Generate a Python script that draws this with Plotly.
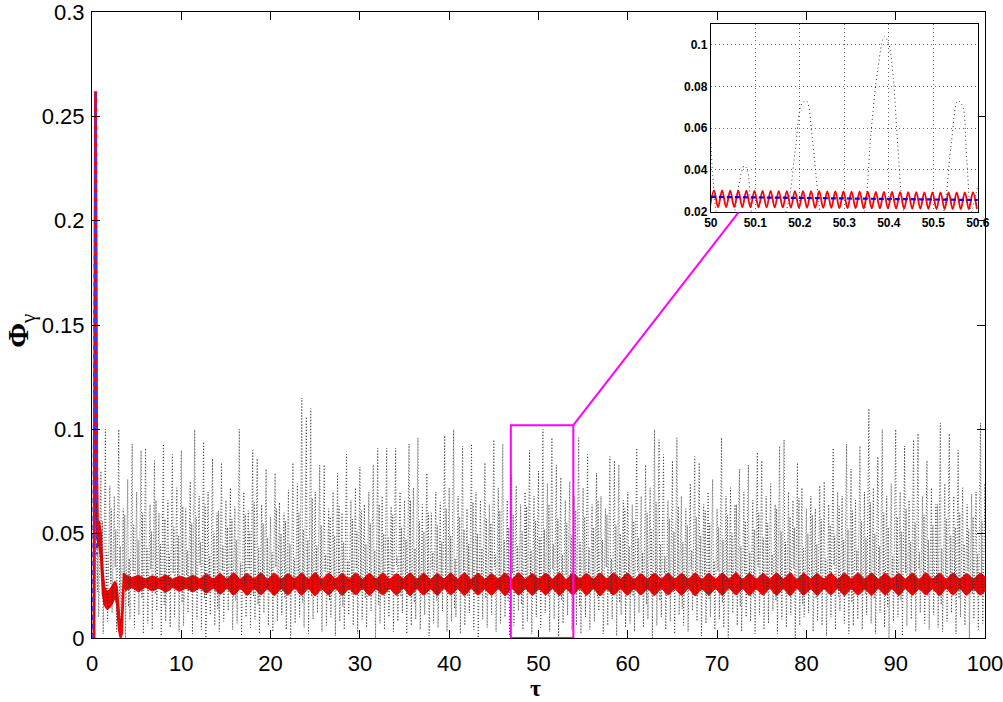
import numpy as np
import plotly.graph_objects as go

# ---------------- data ----------------
# black dotted signal: per 0.5-tau cycle a trough, a tall peak, a dip and a smaller bump
black_peak_tau0 = 0.5
black_step = 0.5
black_peaks = [
    0.065, 0.080, 0.100, 0.073, 0.068, 0.100, 0.062, 0.076, 0.093, 0.070,
    0.090, 0.091, 0.064, 0.085, 0.060, 0.093, 0.066, 0.088, 0.072, 0.090,
    0.062, 0.075, 0.100, 0.068, 0.094, 0.070, 0.086, 0.060, 0.084, 0.066,
    0.072, 0.063, 0.100, 0.070, 0.061, 0.090, 0.086, 0.064, 0.081, 0.058,
    0.079, 0.065, 0.060, 0.071, 0.084, 0.074, 0.115, 0.106, 0.110, 0.070,
    0.083, 0.083, 0.062, 0.070, 0.079, 0.060, 0.088, 0.066, 0.072, 0.082,
    0.064, 0.070, 0.083, 0.091, 0.068, 0.091, 0.063, 0.091, 0.070, 0.066,
    0.093, 0.072, 0.096, 0.064, 0.079, 0.060, 0.070, 0.065, 0.097, 0.072,
    0.100, 0.068, 0.092, 0.062, 0.093, 0.070, 0.066, 0.084, 0.064, 0.095,
    0.072, 0.093, 0.066, 0.078, 0.073, 0.064, 0.070, 0.090, 0.068, 0.080,
    0.100, 0.074, 0.096, 0.083, 0.077, 0.066, 0.075, 0.068, 0.096, 0.072,
    0.088, 0.064, 0.079, 0.068, 0.062, 0.087, 0.085, 0.083, 0.066, 0.070,
    0.064, 0.091, 0.068, 0.083, 0.072, 0.100, 0.095, 0.088, 0.066, 0.085,
    0.096, 0.068, 0.062, 0.074, 0.087, 0.084, 0.064, 0.070, 0.076, 0.062,
    0.096, 0.068, 0.072, 0.064, 0.081, 0.070, 0.083, 0.066, 0.089, 0.085,
    0.068, 0.074, 0.064, 0.092, 0.095, 0.070, 0.066, 0.084, 0.072, 0.062,
    0.068, 0.062, 0.073, 0.075, 0.064, 0.091, 0.070, 0.068, 0.093, 0.081,
    0.066, 0.092, 0.070, 0.110, 0.072, 0.087, 0.100, 0.068, 0.074, 0.100,
    0.070, 0.092, 0.066, 0.095, 0.098, 0.068, 0.085, 0.072, 0.064, 0.103,
    0.074, 0.098, 0.068, 0.090, 0.072, 0.064, 0.069, 0.070, 0.103, 0.074,
]
black_troughs = [
    0.004, 0.010, 0.002, 0.008, 0.012, 0.003, 0.006, 0.000, 0.009, 0.005,
    0.011, 0.002, 0.007, 0.004, 0.013, 0.001, 0.008, 0.005, 0.010, 0.003,
    0.006, 0.012, 0.002, 0.009, 0.004, 0.000, 0.011, 0.006, 0.003, 0.008,
    0.013, 0.004, 0.007, 0.001, 0.010, 0.005, 0.009, 0.002, 0.012, 0.006,
    0.003, 0.008, 0.011, 0.004, 0.000, 0.007, 0.010, 0.005, 0.002, 0.009,
    0.012, 0.003, 0.006, 0.010, 0.001, 0.008, 0.004, 0.011, 0.006, 0.002,
    0.009, 0.005, 0.013, 0.000, 0.007, 0.004, 0.010, 0.003, 0.008, 0.012,
    0.002, 0.006, 0.009, 0.004, 0.011, 0.001, 0.007, 0.005, 0.013, 0.003,
    0.008, 0.010, 0.002, 0.006, 0.012, 0.004, 0.000, 0.009, 0.005, 0.011,
    0.003, 0.007, 0.010, 0.001, 0.006, 0.013, 0.004, 0.008, 0.002, 0.010,
    0.005, 0.012, 0.003, 0.009, 0.000, 0.007, 0.011, 0.004, 0.006, 0.002,
    0.010, 0.004, 0.008, 0.013, 0.002, 0.006, 0.009, 0.001, 0.011, 0.005,
    0.007, 0.003, 0.012, 0.005, 0.009, 0.000, 0.006, 0.010, 0.004, 0.008,
    0.002, 0.011, 0.006, 0.003, 0.013, 0.008, 0.001, 0.007, 0.010, 0.004,
    0.009, 0.005, 0.000, 0.012, 0.006, 0.003, 0.010, 0.008, 0.002, 0.011,
    0.004, 0.007, 0.013, 0.002, 0.009, 0.005, 0.011, 0.000, 0.006, 0.010,
    0.012, 0.003, 0.008, 0.006, 0.001, 0.010, 0.004, 0.013, 0.007, 0.002,
    0.006, 0.009, 0.004, 0.011, 0.007, 0.002, 0.012, 0.005, 0.000, 0.008,
    0.010, 0.001, 0.006, 0.009, 0.003, 0.012, 0.007, 0.004, 0.011, 0.005,
    0.003, 0.008, 0.012, 0.002, 0.010, 0.006, 0.000, 0.009, 0.004, 0.007,
]
black_dips = [
    0.022, 0.030, 0.018, 0.026, 0.034, 0.020, 0.028, 0.015, 0.032, 0.024,
    0.019, 0.027, 0.033, 0.021, 0.029, 0.016, 0.025, 0.031, 0.023, 0.017,
    0.030, 0.022, 0.026, 0.035, 0.019, 0.028, 0.024, 0.014, 0.032, 0.027,
    0.021, 0.018, 0.029, 0.025, 0.033, 0.020, 0.016, 0.030, 0.023, 0.027,
    0.034, 0.022, 0.019, 0.028, 0.024, 0.031, 0.017, 0.026, 0.020, 0.029,
    0.025, 0.032, 0.018, 0.023, 0.030, 0.015, 0.027, 0.021, 0.033, 0.024,
    0.019, 0.028, 0.026, 0.016, 0.031, 0.022, 0.029, 0.035, 0.020, 0.025,
    0.030, 0.017, 0.024, 0.027, 0.021, 0.033, 0.018, 0.028, 0.023, 0.026,
    0.014, 0.029, 0.032, 0.020, 0.025, 0.022, 0.030, 0.019, 0.027, 0.034,
    0.023, 0.026, 0.018, 0.031, 0.028, 0.016, 0.024, 0.029, 0.021, 0.025,
    0.027, 0.020, 0.033, 0.024, 0.018, 0.030, 0.022, 0.026, 0.015, 0.029,
    0.031, 0.025, 0.019, 0.028, 0.034, 0.021, 0.027, 0.017, 0.023, 0.030,
    0.020, 0.032, 0.026, 0.016, 0.029, 0.024, 0.018, 0.031, 0.027, 0.022,
    0.028, 0.014, 0.025, 0.033, 0.021, 0.026, 0.030, 0.019, 0.024, 0.032,
    0.017, 0.027, 0.023, 0.029, 0.015, 0.031, 0.025, 0.020, 0.034, 0.026,
    0.022, 0.030, 0.018, 0.024, 0.028, 0.021, 0.033, 0.027, 0.016, 0.029,
    0.025, 0.019, 0.031, 0.023, 0.026, 0.035, 0.020, 0.028, 0.024, 0.017,
    0.032, 0.026, 0.021, 0.027, 0.019, 0.030, 0.024, 0.015, 0.029, 0.023,
    0.018, 0.031, 0.027, 0.022, 0.033, 0.025, 0.020, 0.028, 0.026, 0.016,
    0.030, 0.023, 0.029, 0.019, 0.025, 0.032, 0.021, 0.027, 0.024, 0.028,
]
black_bumps = [
    0.048, 0.056, 0.041, 0.062, 0.052, 0.044, 0.059, 0.038, 0.054, 0.047,
    0.060, 0.043, 0.051, 0.066, 0.045, 0.057, 0.040, 0.053, 0.049, 0.063,
    0.042, 0.055, 0.058, 0.046, 0.064, 0.039, 0.050, 0.061, 0.044, 0.053,
    0.057, 0.047, 0.036, 0.059, 0.051, 0.065, 0.043, 0.055, 0.048, 0.041,
    0.062, 0.050, 0.056, 0.045, 0.038, 0.060, 0.052, 0.047, 0.067, 0.044,
    0.054, 0.040, 0.058, 0.049, 0.063, 0.046, 0.037, 0.057, 0.051, 0.061,
    0.045, 0.055, 0.042, 0.064, 0.050, 0.048, 0.059, 0.039, 0.053, 0.047,
    0.066, 0.043, 0.056, 0.051, 0.060, 0.041, 0.054, 0.046, 0.062, 0.049,
    0.038, 0.058, 0.052, 0.045, 0.065, 0.050, 0.043, 0.057, 0.055, 0.040,
    0.061, 0.047, 0.053, 0.059, 0.044, 0.051, 0.063, 0.042, 0.056, 0.048,
    0.052, 0.064, 0.045, 0.057, 0.040, 0.055, 0.049, 0.061, 0.046, 0.058,
    0.043, 0.053, 0.066, 0.047, 0.059, 0.038, 0.054, 0.050, 0.062, 0.044,
    0.056, 0.048, 0.041, 0.060, 0.052, 0.065, 0.045, 0.039, 0.057, 0.051,
    0.063, 0.046, 0.054, 0.042, 0.058, 0.049, 0.061, 0.055, 0.037, 0.053,
    0.047, 0.059, 0.050, 0.064, 0.044, 0.056, 0.041, 0.052, 0.060, 0.048,
    0.055, 0.040, 0.062, 0.051, 0.046, 0.058, 0.053, 0.067, 0.043, 0.050,
    0.059, 0.045, 0.057, 0.038, 0.054, 0.049, 0.063, 0.047, 0.052, 0.061,
    0.042, 0.056, 0.048, 0.065, 0.050, 0.044, 0.060, 0.053, 0.039, 0.058,
    0.051, 0.062, 0.046, 0.055, 0.041, 0.059, 0.047, 0.054, 0.064, 0.043,
    0.057, 0.049, 0.053, 0.060, 0.045, 0.052, 0.058, 0.040, 0.056, 0.050,
]

# red: initial spike
red_spike_tau = [0.22, 0.40, 0.52, 0.62, 0.80]
red_spike_val = [0.000, 0.262, 0.080, 0.050, 0.052]
# blue dashed: initial spike
blue_spike_tau = [0.10, 0.40, 0.55]
blue_spike_val = [0.000, 0.262, 0.040]

# red transient band (upper / lower envelope)
red_tr_tau = [0.55, 0.80, 1.00, 1.20, 1.40, 1.70, 2.00, 2.30, 2.60, 2.80, 3.00, 3.20, 3.35, 3.55, 3.70]
red_tr_hi  = [0.055, 0.056, 0.050, 0.032, 0.024, 0.022, 0.023, 0.025, 0.027, 0.024, 0.013, 0.004, 0.010, 0.031, 0.030]
red_tr_lo  = [0.044, 0.045, 0.038, 0.021, 0.016, 0.014, 0.015, 0.017, 0.020, 0.016, 0.004, 0.000, 0.002, 0.024, 0.024]

# red steady band: envelope samples every half beat (bulge, neck, bulge, ...)
red_band_tau0 = 3.70
red_band_step = 0.76
red_band_hi = [
    0.0305, 0.0290, 0.0300, 0.0284, 0.0298, 0.0286, 0.0302, 0.0283, 0.0296, 0.0287, 0.0300, 0.0285, 0.0306, 0.0284, 0.0309, 0.0283,
    0.0311, 0.0283, 0.0309, 0.0284, 0.0312, 0.0282, 0.0310, 0.0283, 0.0308, 0.0285, 0.0311, 0.0283, 0.0313, 0.0282, 0.0310, 0.0284,
    0.0309, 0.0283, 0.0312, 0.0282, 0.0310, 0.0284, 0.0311, 0.0283, 0.0308, 0.0285, 0.0312, 0.0283, 0.0310, 0.0282, 0.0309, 0.0284,
    0.0311, 0.0283, 0.0313, 0.0282, 0.0310, 0.0283, 0.0308, 0.0284, 0.0311, 0.0283, 0.0312, 0.0282, 0.0309, 0.0284, 0.0310, 0.0283,
    0.0312, 0.0282, 0.0311, 0.0284, 0.0309, 0.0283, 0.0310, 0.0285, 0.0312, 0.0283, 0.0311, 0.0282, 0.0308, 0.0284, 0.0310, 0.0283,
    0.0311, 0.0283, 0.0309, 0.0284, 0.0312, 0.0282, 0.0310, 0.0283, 0.0311, 0.0284, 0.0313, 0.0282, 0.0310, 0.0283, 0.0309, 0.0285,
    0.0311, 0.0283, 0.0312, 0.0282, 0.0310, 0.0284, 0.0309, 0.0283, 0.0311, 0.0282, 0.0310, 0.0284, 0.0312, 0.0283, 0.0311, 0.0283,
    0.0310, 0.0284, 0.0309, 0.0283, 0.0311, 0.0282, 0.0312, 0.0284, 0.0310, 0.0283, 0.0311, 0.0283, 0.0309, 0.0284, 0.0310, 0.0283,
]
red_band_lo = [
    0.0225, 0.0240, 0.0222, 0.0242, 0.0226, 0.0239, 0.0220, 0.0241, 0.0224, 0.0238, 0.0221, 0.0240, 0.0215, 0.0238, 0.0210, 0.0236,
    0.0206, 0.0235, 0.0205, 0.0236, 0.0207, 0.0234, 0.0204, 0.0235, 0.0206, 0.0237, 0.0205, 0.0235, 0.0203, 0.0234, 0.0206, 0.0236,
    0.0205, 0.0235, 0.0207, 0.0236, 0.0204, 0.0234, 0.0206, 0.0235, 0.0205, 0.0237, 0.0203, 0.0235, 0.0206, 0.0234, 0.0205, 0.0236,
    0.0207, 0.0235, 0.0204, 0.0236, 0.0206, 0.0234, 0.0205, 0.0235, 0.0203, 0.0236, 0.0206, 0.0235, 0.0205, 0.0234, 0.0207, 0.0236,
    0.0204, 0.0235, 0.0206, 0.0237, 0.0205, 0.0235, 0.0203, 0.0234, 0.0206, 0.0236, 0.0205, 0.0235, 0.0207, 0.0234, 0.0204, 0.0236,
    0.0206, 0.0235, 0.0205, 0.0236, 0.0203, 0.0234, 0.0206, 0.0235, 0.0205, 0.0237, 0.0207, 0.0235, 0.0204, 0.0234, 0.0206, 0.0236,
    0.0205, 0.0235, 0.0203, 0.0236, 0.0206, 0.0234, 0.0205, 0.0235, 0.0207, 0.0236, 0.0204, 0.0235, 0.0206, 0.0234, 0.0205, 0.0236,
    0.0206, 0.0235, 0.0204, 0.0236, 0.0205, 0.0234, 0.0207, 0.0235, 0.0203, 0.0236, 0.0206, 0.0235, 0.0205, 0.0234, 0.0206, 0.0235,
]

# inset (tau 50 .. 50.6)
inset_black_tau = [50.000, 50.005, 50.012, 50.025, 50.045, 50.055, 50.065, 50.075, 50.082, 50.090,
                   50.100, 50.120, 50.140, 50.160, 50.175, 50.190, 50.205, 50.215, 50.228, 50.240,
                   50.250, 50.270, 50.300, 50.330, 50.345, 50.360, 50.375, 50.390, 50.400, 50.410,
                   50.420, 50.432, 50.450, 50.480, 50.510, 50.525, 50.540, 50.555, 50.565, 50.575,
                   50.585, 50.595, 50.600]
inset_black_val = [0.053, 0.035, 0.020, 0.008, 0.010, 0.022, 0.035, 0.042, 0.040, 0.022,
                   0.010, 0.005, 0.008, 0.015, 0.025, 0.050, 0.072, 0.073, 0.055, 0.030,
                   0.015, 0.006, 0.005, 0.010, 0.020, 0.058, 0.088, 0.104, 0.100, 0.084,
                   0.052, 0.022, 0.008, 0.005, 0.010, 0.022, 0.052, 0.073, 0.071, 0.045,
                   0.020, 0.028, 0.032]
# red oscillation in the inset: successive extrema, half a period apart
inset_red_tau0 = 49.998
inset_red_step = 0.00909
inset_red_val = [
    0.0223, 0.0302, 0.0222, 0.0302, 0.0222, 0.0301, 0.0222, 0.0301, 0.0221, 0.0301,
    0.0221, 0.0300, 0.0221, 0.0300, 0.0220, 0.0300, 0.0220, 0.0299, 0.0220, 0.0299,
    0.0219, 0.0299, 0.0219, 0.0298, 0.0219, 0.0298, 0.0218, 0.0298, 0.0218, 0.0297,
    0.0218, 0.0297, 0.0217, 0.0297, 0.0217, 0.0296, 0.0217, 0.0296, 0.0216, 0.0296,
    0.0216, 0.0295, 0.0216, 0.0295, 0.0215, 0.0295, 0.0215, 0.0294, 0.0215, 0.0294,
    0.0214, 0.0294, 0.0214, 0.0293, 0.0214, 0.0293, 0.0213, 0.0293, 0.0213, 0.0292,
    0.0213, 0.0292, 0.0213, 0.0292, 0.0213, 0.0292, 0.0213,
]
inset_blue_tau = [50.0, 50.1, 50.2, 50.3, 50.4, 50.5, 50.6]
inset_blue_val = [0.0271, 0.0268, 0.0266, 0.0263, 0.0261, 0.0258, 0.0256]

# zoom box on the main axes and its leader-line end
zoom_box = dict(x0=46.9, x1=53.9, y0=0.0, y1=0.102)
leader_end = (72.4, 0.2040)

x_ticks = [0, 10, 20, 30, 40, 50, 60, 70, 80, 90, 100]
y_ticks = [0, 0.05, 0.1, 0.15, 0.2, 0.25, 0.3]
y_tick_text = ["0", "0.05", "0.1", "0.15", "0.2", "0.25", "0.3"]
ix_ticks = [50, 50.1, 50.2, 50.3, 50.4, 50.5, 50.6]
ix_tick_text = ["50", "50.1", "50.2", "50.3", "50.4", "50.5", "50.6"]
iy_ticks = [0.02, 0.04, 0.06, 0.08, 0.1]
iy_tick_text = ["0.02", "0.04", "0.06", "0.08", "0.1"]

# ---------------- build series ----------------
n = len(black_peaks)
peak_tau = black_peak_tau0 + black_step * np.arange(n)
bx = np.empty(4 * n)
by = np.empty(4 * n)
bx[0::4] = peak_tau - 0.5 * black_step
bx[1::4] = peak_tau
bx[2::4] = peak_tau + 0.18 * black_step
bx[3::4] = peak_tau + 0.34 * black_step
by[0::4] = black_troughs
by[1::4] = black_peaks
by[2::4] = black_dips
by[3::4] = black_bumps

band_tau = red_band_tau0 + red_band_step * np.arange(len(red_band_hi))
ired_tau = inset_red_tau0 + inset_red_step * np.arange(len(inset_red_val))

RED = "#ff0000"
fig = go.Figure()

# red transient band
fig.add_trace(go.Scatter(x=red_tr_tau, y=red_tr_lo, mode="lines",
                         line=dict(color=RED, width=2), showlegend=False, hoverinfo="skip"))
fig.add_trace(go.Scatter(x=red_tr_tau, y=red_tr_hi, mode="lines", fill="tonexty",
                         fillcolor=RED, line=dict(color=RED, width=2), showlegend=False, hoverinfo="skip"))
# red spike
fig.add_trace(go.Scatter(x=red_spike_tau, y=red_spike_val, mode="lines",
                         line=dict(color=RED, width=3), showlegend=False, hoverinfo="skip"))
# blue dashed spike
fig.add_trace(go.Scatter(x=blue_spike_tau, y=blue_spike_val, mode="lines",
                         line=dict(color="#3a3aff", width=2, dash="5px,4px"), showlegend=False, hoverinfo="skip"))
# red steady band
fig.add_trace(go.Scatter(x=band_tau, y=red_band_lo, mode="lines", line_shape="spline",
                         line=dict(color=RED, width=1, smoothing=0.8), showlegend=False, hoverinfo="skip"))
fig.add_trace(go.Scatter(x=band_tau, y=red_band_hi, mode="lines", line_shape="spline", fill="tonexty",
                         fillcolor=RED, line=dict(color=RED, width=1, smoothing=0.8),
                         showlegend=False, hoverinfo="skip"))
# black dotted signal
fig.add_trace(go.Scatter(x=bx, y=by, mode="lines",
                         line=dict(color="#333333", width=0.9, dash="1px,2px"),
                         showlegend=False, hoverinfo="skip"))

# inset traces
fig.add_trace(go.Scatter(x=inset_black_tau, y=inset_black_val, mode="lines", line_shape="spline",
                         line=dict(color="#333333", width=1, dash="1px,3px"),
                         xaxis="x2", yaxis="y2", showlegend=False, hoverinfo="skip"))
fig.add_trace(go.Scatter(x=ired_tau, y=inset_red_val, mode="lines", line_shape="spline",
                         line=dict(color=RED, width=1.8),
                         xaxis="x2", yaxis="y2", showlegend=False, hoverinfo="skip"))
fig.add_trace(go.Scatter(x=inset_blue_tau, y=inset_blue_val, mode="lines",
                         line=dict(color="#0000ff", width=2.2, dash="5px,3px"),
                         xaxis="x2", yaxis="y2", showlegend=False, hoverinfo="skip"))

FONT = "Liberation Sans, Arial, sans-serif"
tickfont = dict(family=FONT, size=22, color="black")
itickfont = dict(family=FONT, size=12, color="black")

fig.update_layout(
    width=1003, height=702,
    margin=dict(l=92, r=18, t=12, b=64, autoexpand=False),
    paper_bgcolor="white", plot_bgcolor="white",
    xaxis=dict(range=[0, 100], tickvals=x_ticks, ticks="inside", ticklen=8, tickwidth=1,
               tickcolor="black", showline=True, linecolor="black", linewidth=1.2, mirror="ticks",
               showgrid=False, zeroline=False, tickfont=tickfont, domain=[0, 1],
               automargin=False, ticklabelstandoff=5, ticklabeloverflow="allow"),
    yaxis=dict(range=[0, 0.30001], tickvals=y_ticks, ticktext=y_tick_text, ticks="inside", ticklen=8,
               tickwidth=1, tickcolor="black", showline=True, linecolor="black", linewidth=1.2,
               mirror="ticks", showgrid=False, zeroline=False, tickfont=tickfont, domain=[0, 1],
               automargin=False, ticklabelstandoff=2, ticklabeloverflow="allow"),
    xaxis2=dict(domain=[0.693, 0.992], anchor="y2", range=[50, 50.6], tickvals=ix_ticks,
                ticktext=["<b>%s</b>" % t for t in ix_tick_text], ticks="", showline=True,
                linecolor="black", linewidth=1.2, mirror=True, showgrid=True, gridcolor="#666666",
                griddash="1px,3px", gridwidth=1, zeroline=False, tickfont=itickfont, automargin=False,
                ticklabeloverflow="allow"),
    yaxis2=dict(domain=[0.681, 0.981], anchor="x2", range=[0.02, 0.11], tickvals=iy_ticks,
                ticktext=["<b>%s</b>" % t for t in iy_tick_text], ticks="", showline=True,
                linecolor="black", linewidth=1.2, mirror=True, showgrid=True, gridcolor="#666666",
                griddash="1px,3px", gridwidth=1, zeroline=False, tickfont=itickfont, automargin=False,
                ticklabeloverflow="allow"),
    shapes=[
        dict(type="rect", xref="x", yref="y", line=dict(color="#ff00ff", width=2), **zoom_box),
        dict(type="line", xref="x", yref="y", x0=zoom_box["x1"], y0=zoom_box["y1"],
             x1=leader_end[0], y1=leader_end[1], line=dict(color="#ff00ff", width=2)),
    ],
    annotations=[
        dict(text="<b>τ</b>", xref="paper", yref="paper", x=0.497, y=-0.0800, showarrow=False,
             xanchor="center", yanchor="middle",
             font=dict(family="Liberation Serif, Times New Roman, serif", size=24, color="black")),
        dict(text="<b>Φ</b><sub>γ</sub>", xref="paper", yref="paper", x=-0.080, y=0.49, showarrow=False,
             xanchor="center", yanchor="middle", textangle=-90,
             font=dict(family="Liberation Serif, Times New Roman, serif", size=30, color="black")),
    ],
)

# drop the browser's default 8 px body margin so the 1003x702 figure fills the window exactly
fig.write_html("out.html", config={"displayModeBar": False},
               post_script="document.body.style.margin='0px';")
